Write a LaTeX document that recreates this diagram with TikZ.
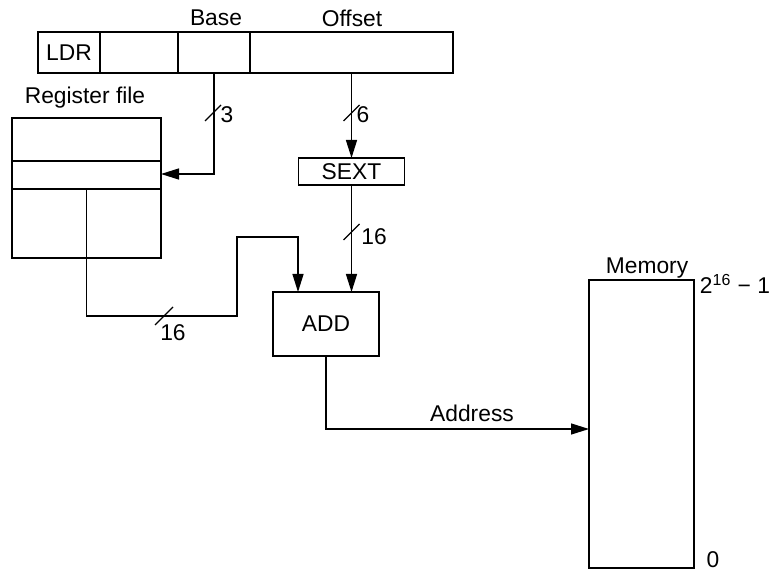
\documentclass[tikz,border=0pt]{standalone}
\usepackage{fontspec}
\setmainfont{Liberation Sans}
\usetikzlibrary{arrows.meta}

\begin{document}
\begin{tikzpicture}[
    x=0.5pt, y=-0.5pt,
    line width=0.7pt,
    >={Triangle[length=9pt,width=5.5pt]},
    every node/.style={font=\fontsize{11.4}{13}\selectfont},
    field/.style={draw, inner sep=0pt, outer sep=0pt, minimum height=20.5pt},
    unit/.style={draw, inner sep=0pt, outer sep=0pt},
    busmark/.style={line width=0.6pt},
    tag/.style={inner sep=1pt}
  ]
    \useasboundingbox (0,0) rectangle (775,571);

    % Instruction
    \node[field, minimum width=31pt] (ldr) at (69,52.5) {LDR};
    \node[field, minimum width=39pt] (dst) at (139,52.5) {};
    \node[field, minimum width=36pt] (base) at (214,52.5) {};
    \node[field, minimum width=101.5pt] (offset) at (351.5,52.5) {};
    \node[tag] at (216,18) {Base};
    \node[tag] at (352,18) {Offset};

    % Register file
    \node[unit, minimum width=74.5pt, minimum height=70pt] (regfile) at (86.5,188) {};
    \node[tag] at (85,98) {Register file};
    \draw (12,161) -- (161,161);
    \draw (12,189) -- (161,189);
    \draw (86.5,189) -- (regfile.south);
    \coordinate (rdport) at (161,174);

    % SEXT and ADD
    \node[unit, minimum width=53pt, minimum height=13.5pt] (sext) at (351.5,171.5) {SEXT};
    \node[unit, minimum width=53pt, minimum height=32pt] (add) at (326,324) {ADD};

    % Memory
    \node[unit, minimum width=52.5pt, minimum height=144pt] (mem) at (641.5,424) {};
    \node[tag] at (647,268) {Memory};
    \node[tag] at (735,284) {2\textsuperscript{16} − 1};
    \node[tag] at (713,560) {0};
    \coordinate (memin) at (589,429);
    \coordinate (jog) at (237,237);

    % Wires
    \draw[->] (base.south) |- (rdport);
    \draw[->] (offset.south) -- (sext.north);
    \draw[->] (sext.south) -- (sext.south |- add.north);
    \draw[->] (regfile.south) -- ++(0,58) -| (jog) -| ([xshift=12.5pt]add.north west);
    \draw[->] (add.south) |- (memin);
    \node[tag] at (472,413) {Address};

    % Bus widths
    \draw[busmark] (213,113) ++(-8,8) -- ++(16,-16);
    \node[tag] at (227,115) {3};
    \draw[busmark] (351.5,113) ++(-8,8) -- ++(16,-16);
    \node[tag] at (363,115) {6};
    \draw[busmark] (351.5,232) ++(-8,8) -- ++(16,-16);
    \node[tag] at (374,237) {16};
    \draw[busmark] (164,316) ++(-9,9) -- ++(18,-18);
    \node[tag] at (173,333) {16};
  \end{tikzpicture}
\end{document}
